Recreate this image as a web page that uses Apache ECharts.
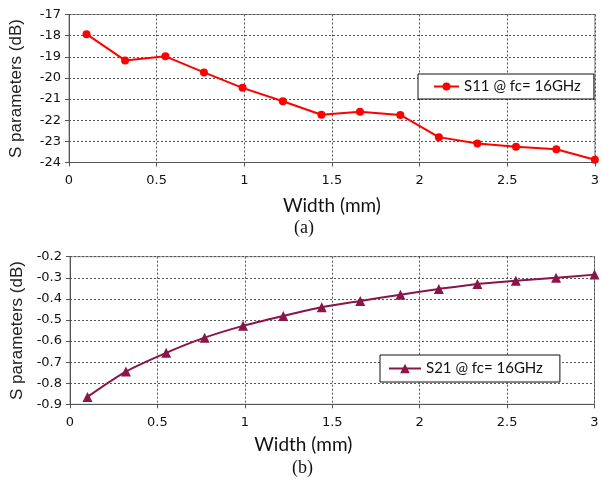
<!DOCTYPE html>
<html>
<head>
<meta charset="utf-8">
<script src="https://cdn.jsdelivr.net/npm/echarts@6/dist/echarts.min.js"></script>
<style>
html,body{margin:0;padding:0;background:#fff;}
#c{width:602px;height:482px;}
</style>
</head>
<body>
<div id="c"></div>
<script>
// ---- data ----
const widths = [0.1, 0.32, 0.55, 0.77, 0.99, 1.22, 1.44, 1.66, 1.89, 2.11, 2.33, 2.55, 2.78, 3.0];
const s11 = [-17.93, -19.17, -18.98, -19.74, -20.47, -21.1, -21.74, -21.6, -21.75, -22.8, -23.1, -23.25, -23.37, -23.87];
const s21 = [-0.865, -0.745, -0.656, -0.584, -0.528, -0.481, -0.44, -0.41, -0.38, -0.353, -0.329, -0.314, -0.3, -0.285];
const s11Name = 'S11 @ fc= 16GHz';
const s21Name = 'S21 @ fc= 16GHz';
const xName = 'Width (mm)';
const yName = 'S parameters (dB)';
const captions = ['(a)', '(b)'];

const pairs = (xs, ys) => xs.map((x, i) => [x, ys[i]]);

const labelFont = {fontFamily: 'DejaVu Sans', fontSize: 13, color: '#111'};
const gridLine = {show: true, lineStyle: {color: '#555', type: [2, 2], width: 1}};
const axisLine = {show: true, lineStyle: {color: '#555', width: 1}};
const tick = {show: true, length: 4, lineStyle: {color: '#555'}};

function xAx(idx, namePad, gap) {
  return {
    type: 'value', gridIndex: idx, min: 0, max: 3, interval: 0.5,
    axisLine: axisLine, axisTick: tick, splitLine: gridLine,
    axisLabel: Object.assign({margin: 12}, labelFont),
    name: xName, nameLocation: 'middle', nameGap: gap,
    nameTextStyle: {fontFamily: 'Lato', fontSize: 19, color: '#111', padding: namePad}
  };
}
function yAx(idx, min, max, interval, decimals) {
  return {
    type: 'value', gridIndex: idx, min: min, max: max, interval: interval,
    axisLine: axisLine, axisTick: tick, splitLine: gridLine,
    axisLabel: Object.assign({margin: 8, formatter: v => v.toFixed(decimals)}, labelFont),
    name: yName, nameLocation: 'middle', nameGap: 44, nameRotate: 90,
    nameTextStyle: {fontFamily: 'Liberation Sans', fontSize: 17, color: '#222'}
  };
}

const chart = echarts.init(document.getElementById('c'), null, {renderer: 'canvas'});
chart.setOption({
  backgroundColor: '#fff',
  animation: false,
  grid: [
    {left: 67, top: 14.5, width: 532, height: 148, show: true, borderColor: '#888', borderWidth: 1, backgroundColor: 'transparent'},
    {left: 70, top: 256.7, width: 524.5, height: 147.6, show: true, borderColor: '#888', borderWidth: 1, backgroundColor: 'transparent'}
  ],
  xAxis: [xAx(0, [0, 0, 0, 0], 34), xAx(1, [0, 58, 0, 0], 31)],
  yAxis: [yAx(0, -24, -17, 1, 0), yAx(1, -0.9, -0.2, 0.1, 1)],
  legend: [
    {
      data: [s11Name], left: 418, top: 74, orient: 'horizontal',
      borderColor: '#111', borderWidth: 1, padding: [5, 13, 5, 15],
      itemWidth: 25, itemHeight: 10, itemGap: 10, backgroundColor: '#fff',
      textStyle: {fontFamily: 'Lato', fontSize: 15, color: '#111'}
    },
    {
      data: [s21Name], left: 380, top: 355, orient: 'horizontal',
      borderColor: '#111', borderWidth: 1, padding: [6, 17, 6, 8],
      itemWidth: 32, itemHeight: 12, itemGap: 14, backgroundColor: '#fff',
      textStyle: {fontFamily: 'Lato', fontSize: 15, color: '#111'}
    }
  ],
  series: [
    {
      name: s11Name, type: 'line', xAxisIndex: 0, yAxisIndex: 0,
      data: pairs(widths, s11), symbol: 'circle', symbolSize: 8,
      lineStyle: {color: '#ff0000', width: 2}, itemStyle: {color: '#ff0000'}
    },
    {
      name: s21Name, type: 'line', xAxisIndex: 1, yAxisIndex: 1,
      data: pairs(widths, s21), symbol: 'triangle', symbolSize: 10, smooth: 0.3,
      lineStyle: {color: '#8b1448', width: 2}, itemStyle: {color: '#8b1448'}
    }
  ],
  graphic: [
    {type: 'text', left: 294, top: 219, style: {text: captions[0], font: '18px "Liberation Serif"', fill: '#111'}},
    {type: 'text', left: 292, top: 459, style: {text: captions[1], font: '18px "Liberation Serif"', fill: '#111'}}
  ]
});
</script>
</body>
</html>
